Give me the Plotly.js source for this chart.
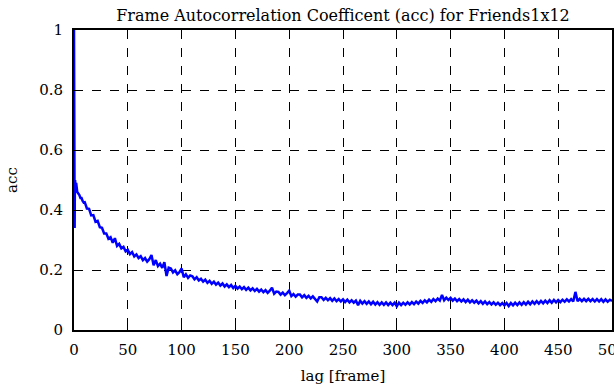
<!DOCTYPE html>
<html>
<head>
<meta charset="utf-8">
<script src="https://cdn.plot.ly/plotly-3.0.1.min.js"></script>
<style>html,body{margin:0;padding:0;background:#fff;}#chart{width:614px;height:385px;}</style>
</head>
<body>
<div id="chart"></div>
<script>
// Initial lags (fine resolution near zero)
const lagStart = [0, 0.2, 0.4, 0.6, 0.8, 1, 1.5, 2, 3, 4, 5, 6, 7, 8, 9];
const accStart = [1.0, 0.62, 0.45, 0.34, 0.48, 0.50, 0.47, 0.49, 0.46, 0.455, 0.45, 0.44, 0.44, 0.43, 0.425];
// acc values for lag 10 .. 500, step 2
const lagStep = 2;
const lagFirst = 10;
const acc = [
  0.426, 0.405, 0.404, 0.382, 0.383, 0.361, 0.364, 0.343, 0.341, 0.322,
  0.322, 0.304, 0.309, 0.291, 0.306, 0.280, 0.287, 0.272, 0.277, 0.262,
  0.267, 0.253, 0.260, 0.245, 0.252, 0.240, 0.246, 0.233, 0.240, 0.228,
  0.236, 0.250, 0.216, 0.233, 0.213, 0.221, 0.207, 0.226, 0.180, 0.208,
  0.205, 0.192, 0.199, 0.186, 0.193, 0.205, 0.176, 0.186, 0.174, 0.182,
  0.179, 0.169, 0.176, 0.165, 0.171, 0.161, 0.168, 0.157, 0.164, 0.154,
  0.161, 0.151, 0.158, 0.148, 0.155, 0.145, 0.152, 0.143, 0.150, 0.140,
  0.147, 0.138, 0.145, 0.136, 0.143, 0.134, 0.141, 0.132, 0.139, 0.130,
  0.137, 0.128, 0.135, 0.126, 0.133, 0.124, 0.131, 0.141, 0.121, 0.128,
  0.127, 0.118, 0.125, 0.116, 0.123, 0.131, 0.113, 0.120, 0.111, 0.118,
  0.118, 0.109, 0.116, 0.107, 0.114, 0.105, 0.112, 0.104, 0.095, 0.109,
  0.109, 0.100, 0.107, 0.099, 0.106, 0.097, 0.105, 0.096, 0.103, 0.095,
  0.102, 0.093, 0.101, 0.092, 0.099, 0.091, 0.098, 0.083, 0.097, 0.088,
  0.096, 0.087, 0.095, 0.086, 0.094, 0.085, 0.093, 0.084, 0.092, 0.084,
  0.092, 0.083, 0.091, 0.083, 0.091, 0.079, 0.091, 0.083, 0.091, 0.084,
  0.092, 0.085, 0.093, 0.086, 0.095, 0.088, 0.097, 0.090, 0.099, 0.092,
  0.101, 0.094, 0.103, 0.096, 0.105, 0.098, 0.117, 0.099, 0.108, 0.100,
  0.107, 0.098, 0.105, 0.096, 0.103, 0.095, 0.102, 0.093, 0.101, 0.092,
  0.099, 0.091, 0.098, 0.089, 0.096, 0.087, 0.095, 0.086, 0.093, 0.085,
  0.092, 0.084, 0.091, 0.083, 0.090, 0.082, 0.090, 0.080, 0.090, 0.082,
  0.091, 0.083, 0.092, 0.084, 0.093, 0.085, 0.094, 0.086, 0.095, 0.087,
  0.096, 0.088, 0.097, 0.089, 0.098, 0.090, 0.099, 0.091, 0.100, 0.092,
  0.100, 0.093, 0.101, 0.094, 0.102, 0.095, 0.103, 0.095, 0.127, 0.096,
  0.104, 0.096, 0.104, 0.096, 0.104, 0.096, 0.103, 0.095, 0.103, 0.095,
  0.103, 0.094, 0.102, 0.094, 0.101, 0.097
];
const xTicks = [0, 50, 100, 150, 200, 250, 300, 350, 400, 450, 500];
const yTicks = [0, 0.2, 0.4, 0.6, 0.8, 1];
const yTickText = ['0', '0.2', '0.4', '0.6', '0.8', '1'];

const lags = lagStart.concat(acc.map((_, i) => lagFirst + lagStep * i));
const vals = accStart.concat(acc);

const fam = 'DejaVu Serif';
const f15 = {family: fam, size: 15, color: '#000'};
const f16 = {family: fam, size: 16, color: '#000'};

Plotly.newPlot('chart', [{
  x: lags, y: vals, type: 'scatter', mode: 'lines',
  line: {color: '#0000ff', width: 2.5}, hoverinfo: 'skip', cliponaxis: true
}], {
  width: 614, height: 385,
  margin: {l: 74, r: 2, t: 30, b: 55},
  paper_bgcolor: '#fff', plot_bgcolor: '#fff',
  showlegend: false,
  font: f15,
  title: {text: 'Frame Autocorrelation Coefficent (acc) for Friends1x12',
          font: f16, x: 0.5, xref: 'paper', y: 12, yref: 'container', yanchor: 'middle'},
  xaxis: {
    range: [0, 500], tickvals: xTicks, ticktext: xTicks.map(String),
    tickfont: f15, ticklabeloverflow: 'allow',
    showgrid: true, gridcolor: '#000', griddash: 'dash', gridwidth: 1,
    showline: true, linecolor: '#000', linewidth: 2, mirror: true,
    ticks: 'inside', ticklen: 6, tickcolor: '#000', tickwidth: 1,
    ticklabelstandoff: 5, zeroline: false,
    title: {text: 'lag [frame]', font: f15, standoff: 12}
  },
  yaxis: {
    range: [0, 1], tickvals: yTicks, ticktext: yTickText,
    tickfont: f15,
    showgrid: true, gridcolor: '#000', griddash: 'dash', gridwidth: 1,
    showline: true, linecolor: '#000', linewidth: 2, mirror: true,
    ticks: 'inside', ticklen: 6, tickcolor: '#000', tickwidth: 1,
    ticklabelstandoff: 6, zeroline: false,
    title: {text: 'acc', font: f15, standoff: 18}
  }
}, {staticPlot: true});
</script>
</body>
</html>
